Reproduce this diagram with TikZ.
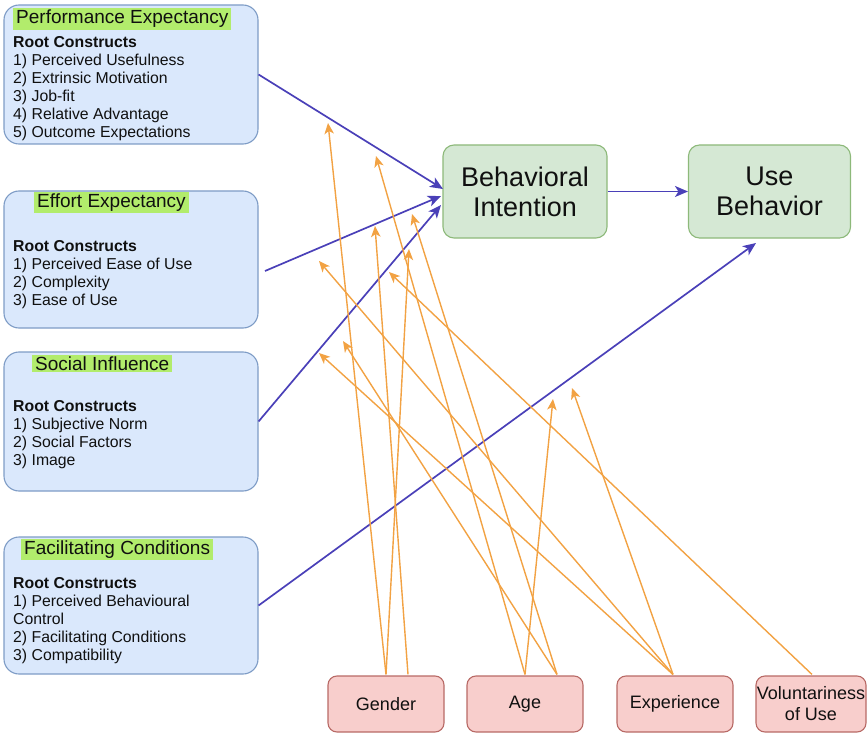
\documentclass[tikz,border=0pt]{standalone}
\usepackage{fontspec}
\setmainfont{Liberation Sans}
\usetikzlibrary{arrows.meta,calc}

\definecolor{bluefill}{HTML}{DAE8FC}
\definecolor{bluedraw}{HTML}{7E9CC6}
\definecolor{greenfill}{HTML}{D5E8D4}
\definecolor{greendraw}{HTML}{8DB97A}
\definecolor{pinkfill}{HTML}{F8CECC}
\definecolor{pinkdraw}{HTML}{B86A66}
\definecolor{hilite}{HTML}{B2EC6C}
\definecolor{mainarrow}{HTML}{4A40B8}
\definecolor{modarrow}{HTML}{F2A243}
\definecolor{ink}{HTML}{101010}

\tikzset{
  constructbox/.style={draw=bluedraw, fill=bluefill, line width=1.1pt,
    rounded corners=15pt, minimum width=254pt, inner sep=0pt},
  titletag/.style={fill=hilite, anchor=west, inner xsep=3pt, inner ysep=2pt,
    text=ink, font=\fontsize{19}{21}\selectfont},
  listtext/.style={anchor=north west, inner sep=0pt, align=left, text=ink,
    font=\fontsize{15.8}{18}\selectfont},
  outcomebox/.style={draw=greendraw, fill=greenfill, line width=1.1pt,
    rounded corners=11pt, minimum height=93pt, inner sep=0pt, align=center,
    text=ink, font=\fontsize{27}{30}\selectfont},
  moderator/.style={draw=pinkdraw, fill=pinkfill, line width=1.1pt,
    rounded corners=9pt, minimum height=56pt, inner sep=0pt, align=center,
    text=ink, font=\fontsize{18}{21}\selectfont},
  mainlink/.style={draw=mainarrow, line width=1.7pt,
    -{Stealth[length=13pt,width=11pt,inset=3.5pt]}},
  modlink/.style={draw=modarrow, line width=1.4pt,
    -{Stealth[length=11pt,width=9.5pt,inset=3pt]}}
}

\begin{document}
\begin{tikzpicture}[x=1pt,y=-1pt]
\useasboundingbox (0,0) rectangle (868,733);

% --- construct boxes on the left ---
\node[constructbox, minimum height=139pt] (pe) at (131,74.5) {};
\node[constructbox, minimum height=137pt] (ee) at (131,259.5) {};
\node[constructbox, minimum height=139pt] (si) at (131,421.5) {};
\node[constructbox, minimum height=137pt] (fc) at (131,605.5) {};

\node[titletag] (pet) at (13,19) {Performance Expectancy};
\node[titletag] (eet) at (34,202.5) {Effort Expectancy};
\node[titletag] (sit) at (32,363.5) {Social Influence};
\node[titletag] (fct) at (21,549.5) {Facilitating Conditions};

\node[listtext] (pel) at (13,36) {\textbf{Root Constructs}\\1) Perceived Usefulness\\2) Extrinsic Motivation\\3) Job-fit\\4) Relative Advantage\\5) Outcome Expectations};
\node[listtext] (eel) at (13,240) {\textbf{Root Constructs}\\1) Perceived Ease of Use\\2) Complexity\\3) Ease of Use};
\node[listtext] (sil) at (13,400) {\textbf{Root Constructs}\\1) Subjective Norm\\2) Social Factors\\3) Image};
\node[listtext] (fcl) at (13,577) {\textbf{Root Constructs}\\1) Perceived Behavioural\\Control\\2) Facilitating Conditions\\3) Compatibility};

% --- outcome boxes ---
\node[outcomebox, minimum width=164pt] (bi) at (525,191.5) {Behavioral\\Intention};
\node[outcomebox, minimum width=162pt] (ub) at (769.5,191.5) {Use\\Behavior};

% --- moderators along the bottom ---
\node[moderator, minimum width=116pt] (gender) at (386,704) {Gender};
\node[moderator, minimum width=116pt] (age) at (525,704) {Age};
\node[moderator, minimum width=116pt] (exper) at (675,704) {Experience};
\node[moderator, minimum width=110pt] (volun) at (811,704) {Voluntariness\\of Use};

% --- main paths ---
\coordinate (eeout) at (265,271);
\coordinate (bitop) at (443,189);
\coordinate (bimid) at (441,196);
\coordinate (bilow) at (441,205);
\coordinate (ubin) at (756,243);
\draw[mainlink] (pe.east) -- (bitop);
\draw[mainlink] (eeout) -- (bimid);
\draw[mainlink] (si.east) -- (bilow);
\draw[mainlink] (fc.east) -- (ubin);
\draw[mainlink] (bi.east) -- (ub.west);

% --- moderator start points ---
\coordinate (g1) at ($(gender.north)+(0,-1)$);
\coordinate (g2) at ($(gender.north)+(22,-1)$);
\coordinate (a1) at ($(age.north)+(0,-1)$);
\coordinate (a2) at ($(age.north)+(32,-1)$);
\coordinate (x1) at ($(exper.north)+(-2,-1)$);
\coordinate (v1) at ($(volun.north)+(1,-1)$);

% --- moderating effects (arrow tips just below the main paths) ---
\coordinate (gPE) at (328,123);
\coordinate (gSI) at (409,249);
\coordinate (gEE) at (375,226);
\coordinate (aPE) at (376,156);
\coordinate (aFC) at (553,399);
\coordinate (aEE) at (412,214);
\coordinate (aSI) at (343,341);
\coordinate (xEE) at (319,261);
\coordinate (xSI) at (319,353);
\coordinate (xFC) at (572,388);
\coordinate (vSI) at (389,272);

\draw[modlink] (g1) -- (gPE);
\draw[modlink] (g1) -- (gSI);
\draw[modlink] (g2) -- (gEE);
\draw[modlink] (a1) -- (aPE);
\draw[modlink] (a1) -- (aFC);
\draw[modlink] (a2) -- (aEE);
\draw[modlink] (a2) -- (aSI);
\draw[modlink] (x1) -- (xEE);
\draw[modlink] (x1) -- (xSI);
\draw[modlink] (x1) -- (xFC);
\draw[modlink] (v1) -- (vSI);
\end{tikzpicture}
\end{document}
